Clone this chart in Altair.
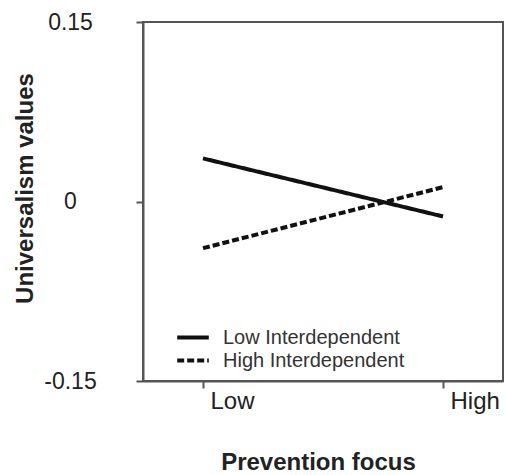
import altair as alt
import pandas as pd

levels = ["Low", "High"]
series = ["Low Interdependent", "High Interdependent"]
low_interdep = [0.036, -0.0125]
high_interdep = [-0.039, 0.012]
y_ticks = [-0.15, 0, 0.15]

rows = []
for s, vals in zip(series, [low_interdep, high_interdep]):
    for lv, v in zip(levels, vals):
        rows.append({"focus": lv, "value": v, "group": s})
df = pd.DataFrame(rows)

FONT = "Liberation Sans"

chart = alt.Chart(df).mark_line(strokeWidth=4, color="#111").encode(
    x=alt.X("focus:N", sort=levels, scale=alt.Scale(type="point", padding=0.25),
            axis=alt.Axis(title="Prevention focus", labelAngle=0, labelAlign="left",
                          labelOffset=7, labelPadding=1, labelBaseline="top",
                          labelFontSize=24, titleFontSize=24, titleFontWeight="bold",
                          titleX=175, titleY=81, titleBaseline="middle",
                          tickSize=7)),
    y=alt.Y("value:Q", scale=alt.Scale(domain=[-0.15, 0.15], nice=False, zero=False),
            axis=alt.Axis(title="Universalism values", values=y_ticks,
                          labelExpr="replace(format(datum.value, '.2~f'), '\u2212', '-')",
                          labelAlign="center", labelBaseline="middle", labelPadding=66,
                          labelFlush=False, labelFontSize=23, titleFontSize=24,
                          titleFontWeight="bold", titleX=-118, titleY=166,
                          titleBaseline="middle", titleAngle=-90, tickSize=7, grid=False)),
    strokeDash=alt.StrokeDash("group:N", sort=series,
                              scale=alt.Scale(domain=series, range=[[1, 0], [7, 3]]),
                              legend=alt.Legend(title=None, orient="none", legendX=32, legendY=305,
                                                symbolType="stroke", symbolSize=1000,
                                                symbolStrokeWidth=4, symbolStrokeColor="#111",
                                                labelFontSize=20, labelColor="#333", labelLimit=400,
                                                clipHeight=21, rowPadding=2, labelOffset=12)),
).properties(
    width=360, height=359,
    autosize=alt.AutoSizeParams(type="none"),
    padding={"left": 143, "top": 22, "right": 2, "bottom": 94},
).configure(
    font=FONT,
).configure_view(
    stroke="#555", strokeWidth=2,
).configure_axis(
    domainColor="#555", domainWidth=2, tickColor="#555", tickWidth=2,
    labelColor="#222", titleColor="#222", labelFont=FONT, titleFont=FONT, grid=False,
)

chart.save("out.html", embed_options={"renderer": "svg", "actions": False})
